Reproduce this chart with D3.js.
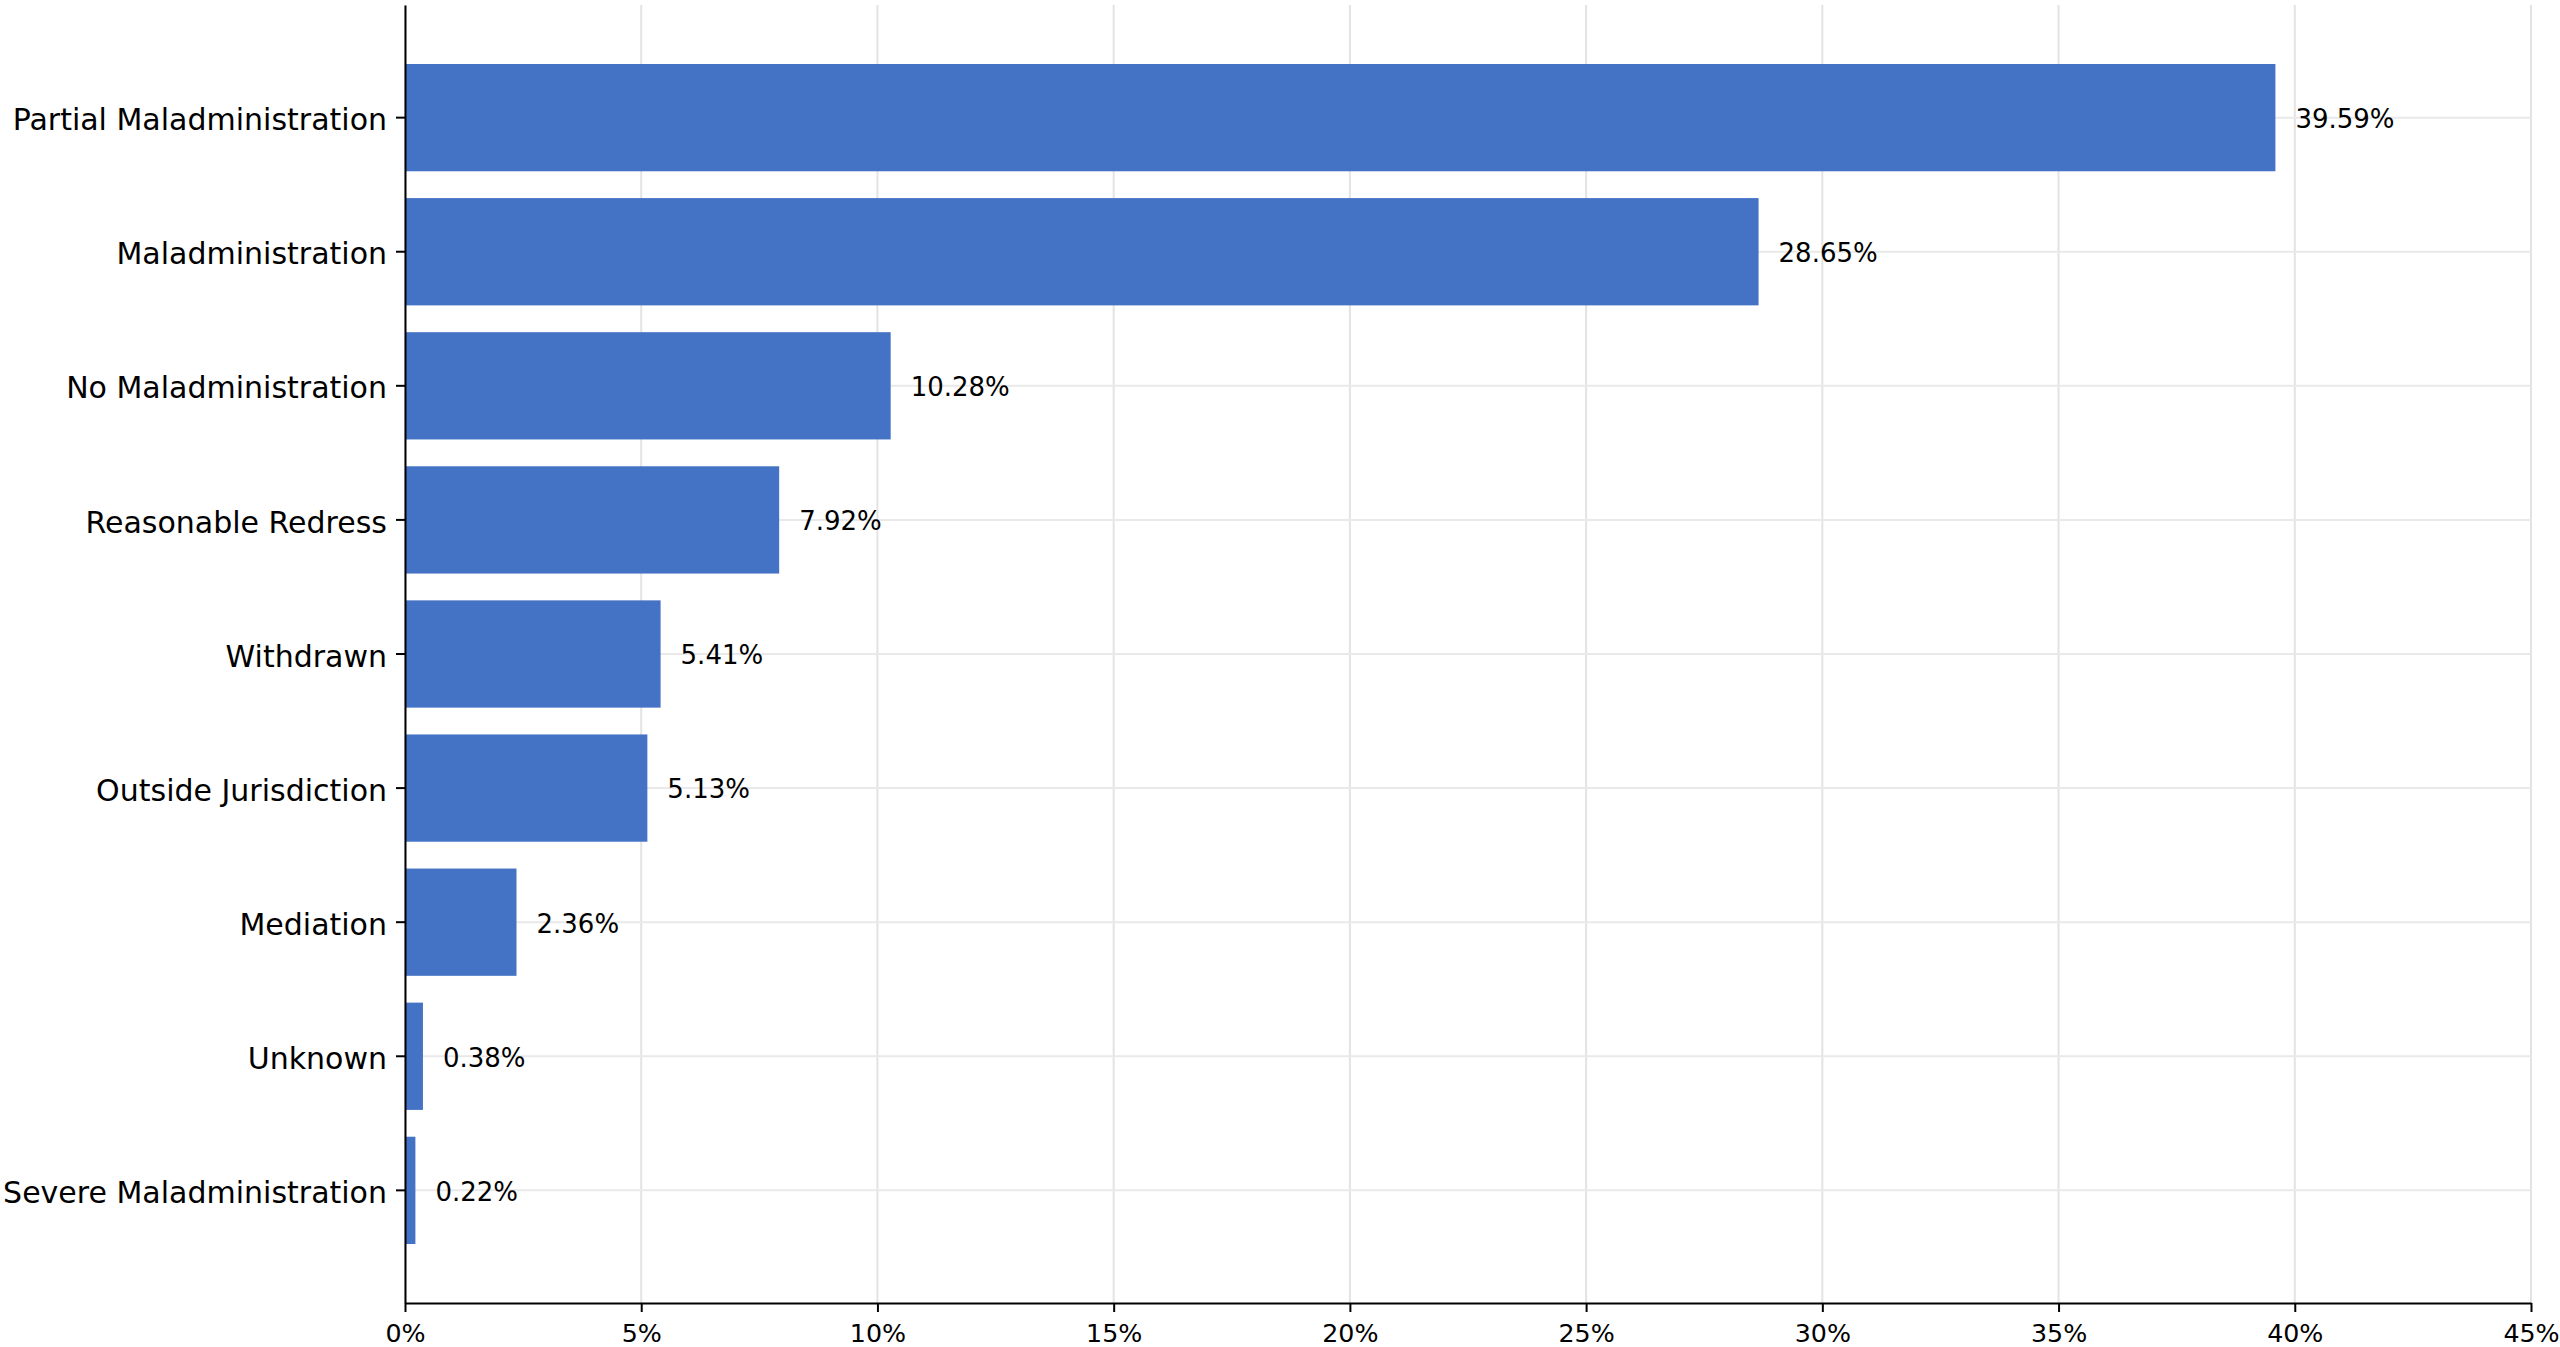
<!DOCTYPE html>
<html>
<head>
<meta charset="utf-8">
<script src="https://cdn.jsdelivr.net/npm/d3@7"></script>
<style>
  body { margin: 0; background: #fff; }
  svg { display: block; font-family: "DejaVu Sans", sans-serif; }
</style>
</head>
<body>
<svg></svg>
<script>
// outcome categories, top to bottom
let categories = ['Partial Maladministration', 'Maladministration', 'No Maladministration',
                  'Reasonable Redress', 'Withdrawn', 'Outside Jurisdiction', 'Mediation',
                  'Unknown', 'Severe Maladministration'];
let shares = [39.59, 28.65, 10.28, 7.92, 5.41, 5.13, 2.36, 0.38, 0.22];
let xTicks = [0, 5, 10, 15, 20, 25, 30, 35, 40, 45];

let width = 2560;
let height = 1347;
let plotLeft = 405;
let plotRight = 2531;
let plotTop = 5;
let plotBottom = 1303;

let svg = d3.select('svg')
            .attr('width', width)
            .attr('height', height);

let xScale = d3.scaleLinear()
               .domain([0, 45])
               .range([plotLeft, plotRight]);

let yScale = d3.scaleBand()
               .domain(categories)
               .range([plotTop, plotBottom])
               .paddingInner(0.2)
               .paddingOuter(0.44);

let grid = svg.append('g');

// vertical grid lines
grid.selectAll('line.vgrid')
    .data(xTicks)
    .enter()
    .append('line')
    .attr('class', 'vgrid')
    .attr('x1', d => xScale(d))
    .attr('x2', d => xScale(d))
    .attr('y1', plotTop)
    .attr('y2', plotBottom)
    .attr('stroke', '#e3e3e3')
    .attr('stroke-width', 2);

// horizontal grid lines at each category
grid.selectAll('line.hgrid')
    .data(categories)
    .enter()
    .append('line')
    .attr('class', 'hgrid')
    .attr('x1', plotLeft)
    .attr('x2', plotRight)
    .attr('y1', d => yScale(d) + yScale.bandwidth() / 2)
    .attr('y2', d => yScale(d) + yScale.bandwidth() / 2)
    .attr('stroke', '#e9e9e9')
    .attr('stroke-width', 2);

// bars
svg.selectAll('rect.bar')
   .data(shares)
   .enter()
   .append('rect')
   .attr('class', 'bar')
   .attr('x', xScale(0))
   .attr('y', (d, i) => yScale(categories[i]))
   .attr('width', d => xScale(d) - xScale(0))
   .attr('height', yScale.bandwidth())
   .attr('fill', '#4472c4');

// value labels
svg.selectAll('text.value')
   .data(shares)
   .enter()
   .append('text')
   .attr('class', 'value')
   .attr('x', d => xScale(d) + 20)
   .attr('y', (d, i) => yScale(categories[i]) + yScale.bandwidth() / 2)
   .attr('dy', '0.4em')
   .attr('font-size', 26)
   .attr('fill', '#000')
   .text(d => d.toFixed(2) + '%');

// axes
let xAxis = d3.axisBottom(xScale)
              .tickValues(xTicks)
              .tickFormat(d => d + '%')
              .tickSize(9)
              .tickSizeOuter(0)
              .tickPadding(12);

let yAxis = d3.axisLeft(yScale)
              .tickSize(9)
              .tickSizeOuter(0)
              .tickPadding(9);

let gx = svg.append('g')
            .attr('transform', 'translate(0,' + plotBottom + ')')
            .call(xAxis);

let gy = svg.append('g')
            .attr('transform', 'translate(' + plotLeft + ',0)')
            .call(yAxis);

gx.selectAll('text').attr('font-size', 25.3).attr('fill', '#000');
gy.selectAll('text').attr('font-size', 30).attr('dy', '0.42em').attr('fill', '#000');
[gx, gy].forEach(g => {
    g.attr('font-family', null);
    g.select('.domain').attr('stroke', '#000').attr('stroke-width', 2);
    g.selectAll('.tick line').attr('stroke', '#000').attr('stroke-width', 2);
});
</script>
</body>
</html>
